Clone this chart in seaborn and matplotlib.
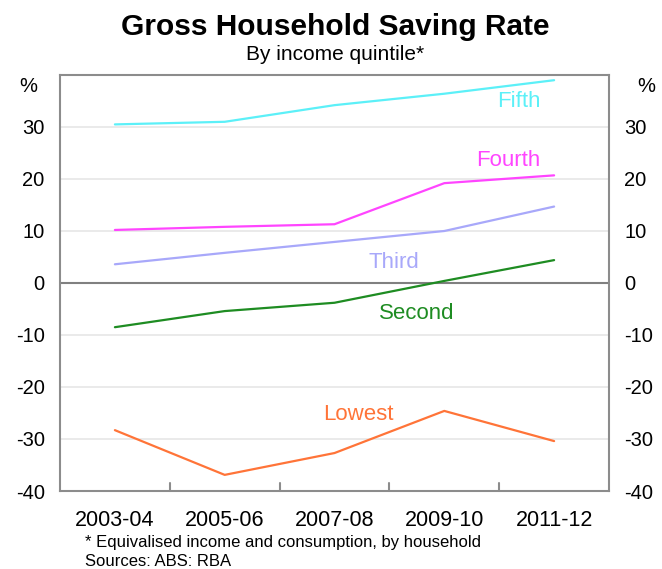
import matplotlib
matplotlib.use("Agg")
import matplotlib.pyplot as plt
import seaborn as sns
import pandas as pd

years = ["2003-04", "2005-06", "2007-08", "2009-10", "2011-12"]
fifth = [30.5, 31.0, 34.2, 36.4, 39.0]
fourth = [10.2, 10.8, 11.3, 19.2, 20.7]
third = [3.6, 5.8, 7.9, 10.0, 14.7]
second = [-8.5, -5.4, -3.8, 0.4, 4.4]
lowest = [-28.3, -36.9, -32.7, -24.6, -30.4]

quintiles = ["Fifth", "Fourth", "Third", "Second", "Lowest"]
colours = {"Fifth": "#5CF0F8", "Fourth": "#FF45FF", "Third": "#A8A8FA",
           "Second": "#1E8C22", "Lowest": "#FF7438"}
label_pos = {"Fifth": (3.68, 34.9), "Fourth": (3.58, 23.6), "Third": (2.54, 3.9),
             "Second": (2.75, -5.9), "Lowest": (2.22, -25.2)}

df = pd.DataFrame({
    "year": years * 5,
    "rate": fifth + fourth + third + second + lowest,
    "quintile": [q for q in quintiles for _ in years],
})

sns.set_style("white")
plt.rcParams["font.family"] = ["Liberation Sans", "DejaVu Sans"]
plt.rcParams["axes.unicode_minus"] = False
plt.rcParams["text.color"] = "black"
plt.rcParams["xtick.color"] = "black"
plt.rcParams["ytick.color"] = "black"

fig = plt.figure(figsize=(6.62, 5.69), dpi=100)
ax = fig.add_axes([60 / 662, 1 - 491 / 569, 549 / 662, 416 / 569])

for y in range(-30, 40, 10):
    ax.axhline(y, color="#E6E6E6", lw=1.2, zorder=0)
ax.axhline(0, color="#808080", lw=1.5, zorder=1)

sns.lineplot(data=df, x="year", y="rate", hue="quintile", palette=colours,
             hue_order=quintiles, lw=1.6, legend=False, ax=ax, sort=False)

for q, (x, y) in label_pos.items():
    ax.text(x, y, q, color=colours[q], fontsize=16, ha="center", va="center")

ax.set_xlim(-0.5, 4.5)
ax.set_ylim(-40, 40)
ax.set_yticks(range(-40, 40, 10))
ax.set_xlabel("")
ax.set_ylabel("")

for side in ["left", "right", "top", "bottom"]:
    ax.spines[side].set_color("#8C8C8C")
    ax.spines[side].set_linewidth(1.5)

ax.tick_params(axis="y", left=False, right=False, labelleft=True,
               labelright=True, labelsize=14.5, pad=7.5)
ax.tick_params(axis="x", bottom=False, labelsize=15.5, pad=10)
for b in [0.5, 1.5, 2.5, 3.5]:
    ax.plot([b, b], [-40, -38.4], color="#8C8C8C", lw=1.5, clip_on=False)

ax.text(37 / 662, 1 - 77 / 569, "%", transform=fig.transFigure, fontsize=14.5,
        ha="right", va="top")
ax.text(637 / 662, 1 - 77 / 569, "%", transform=fig.transFigure, fontsize=14.5,
        ha="left", va="top")

fig.text(335 / 662, 1 - 27 / 569, "Gross Household Saving Rate",
         fontsize=21.5, fontweight="bold", ha="center", va="center")
fig.text(335 / 662, 1 - 55 / 569, "By income quintile*",
         fontsize=15, ha="center", va="center")
fig.text(85 / 662, 1 - 543 / 569,
         "* Equivalised income and consumption, by household",
         fontsize=12, ha="left", va="center")
fig.text(85 / 662, 1 - 562 / 569, "Sources: ABS: RBA",
         fontsize=12, ha="left", va="center")

fig.savefig("out.png", dpi=100)
